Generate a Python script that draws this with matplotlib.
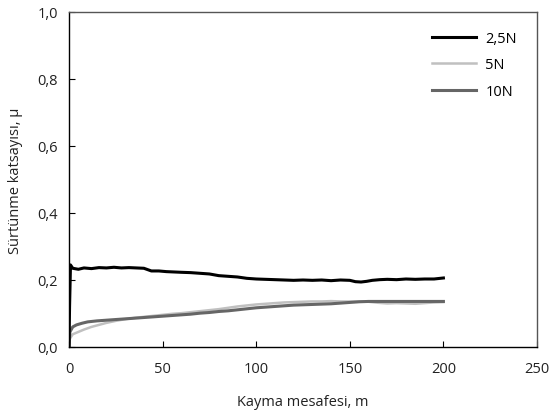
import matplotlib
matplotlib.use("Agg")
import matplotlib.pyplot as plt
from matplotlib.ticker import FuncFormatter

# Data
x_25 = [0, 0.3, 0.8, 2, 5, 8, 12, 16, 20, 24, 28, 32, 36, 40, 44, 48, 52, 56, 60, 65, 70, 75, 80, 85,
        90, 95, 100, 105, 110, 115, 120, 125, 130, 135, 140, 145, 150, 153, 156, 159, 162, 166, 170,
        175, 180, 185, 190, 195, 200]
y_25 = [0.0, 0.12, 0.245, 0.235, 0.232, 0.236, 0.234, 0.237, 0.236, 0.238, 0.236, 0.237, 0.236, 0.235,
        0.227, 0.227, 0.225, 0.224, 0.223, 0.222, 0.220, 0.218, 0.213, 0.211, 0.209, 0.205, 0.203,
        0.202, 0.201, 0.200, 0.199, 0.200, 0.199, 0.200, 0.198, 0.200, 0.199, 0.195, 0.194, 0.196,
        0.199, 0.201, 0.202, 0.201, 0.203, 0.202, 0.203, 0.203, 0.206]

x_5 = [0, 0.5, 2, 5, 8, 12, 16, 20, 25, 30, 35, 40, 45, 50, 55, 60, 65, 70, 75, 80, 85, 90, 95, 100,
       105, 110, 115, 120, 125, 130, 135, 140, 145, 150, 155, 160, 165, 170, 175, 180, 185, 190, 195, 200]
y_5 = [0.0, 0.025, 0.038, 0.045, 0.052, 0.060, 0.066, 0.072, 0.078, 0.083, 0.087, 0.090, 0.093, 0.096,
       0.099, 0.101, 0.104, 0.107, 0.110, 0.113, 0.117, 0.121, 0.124, 0.127, 0.129, 0.131, 0.133, 0.134,
       0.135, 0.136, 0.136, 0.137, 0.136, 0.136, 0.136, 0.135, 0.132, 0.130, 0.131, 0.130, 0.129, 0.131,
       0.133, 0.134]

x_10 = [0, 0.5, 2, 4, 7, 10, 15, 20, 25, 30, 35, 40, 45, 50, 55, 60, 65, 70, 75, 80, 85, 90, 95, 100,
        105, 110, 115, 120, 125, 130, 135, 140, 145, 150, 155, 160, 165, 170, 175, 180, 185, 190, 195, 200]
y_10 = [0.0, 0.045, 0.060, 0.066, 0.071, 0.075, 0.078, 0.080, 0.082, 0.084, 0.086, 0.088, 0.090, 0.092,
        0.094, 0.096, 0.098, 0.101, 0.103, 0.106, 0.108, 0.111, 0.114, 0.117, 0.119, 0.121, 0.123, 0.125,
        0.126, 0.127, 0.128, 0.129, 0.131, 0.133, 0.135, 0.136, 0.136, 0.136, 0.136, 0.136, 0.136, 0.136,
        0.136, 0.136]

labels = ["2,5N", "5N", "10N"]
x_ticks = [0, 50, 100, 150, 200, 250]
y_ticks = [0.0, 0.2, 0.4, 0.6, 0.8, 1.0]

plt.rcParams['font.family'] = ['Open Sans', 'DejaVu Sans']

fig = plt.figure(figsize=(5.53, 4.14), dpi=100)
ax = fig.add_axes([69/553, 1-348/414, (537-69)/553, (348-13)/414])

ax.plot(x_25, y_25, color='#000000', lw=2.2, label=labels[0], zorder=3)
ax.plot(x_5, y_5, color='#c0c0c0', lw=1.8, label=labels[1], zorder=2)
ax.plot(x_10, y_10, color='#666666', lw=2.2, label=labels[2], zorder=2.5)

ax.set_xlim(0, 250)
ax.set_ylim(0, 1.0)
ax.set_xticks(x_ticks)
ax.set_yticks(y_ticks)
ax.xaxis.set_major_formatter(FuncFormatter(lambda v, p: f"{v:.0f}"))
ax.yaxis.set_major_formatter(FuncFormatter(lambda v, p: f"{v:.1f}".replace('.', ',')))
ax.tick_params(direction='in', length=4, width=0.8, labelsize=10.5, colors='#000000', labelcolor='#222222')
ax.tick_params(axis='x', pad=10)
ax.tick_params(axis='y', pad=8)

for s in ['left', 'bottom']:
    ax.spines[s].set_color('#000000')
    ax.spines[s].set_linewidth(1.0)
for s in ['top', 'right']:
    ax.spines[s].set_color('#555555')
    ax.spines[s].set_linewidth(1.0)

ax.set_xlabel("Kayma mesafesi, m", fontsize=10.5, color='#222222')
ax.set_ylabel("Sürtünme katsayısı, µ", fontsize=10.5, color='#222222')
ax.xaxis.set_label_coords((303 - 69) / (537 - 69), -(403 - 348) / (348 - 13))
ax.yaxis.set_label_coords(-(69 - 16) / (537 - 69), 0.5)
ax.xaxis.label.set_va('center')
ax.yaxis.label.set_va('center')

leg = ax.legend(loc='upper left', bbox_to_anchor=((432 - 69) / (537 - 69), 1 - (32 - 13) / (348 - 13)),
                frameon=False, fontsize=10.5, handlelength=3.0, labelspacing=0.78, handletextpad=0.65,
                borderaxespad=0, borderpad=0)

fig.savefig("out.png", dpi=100)
